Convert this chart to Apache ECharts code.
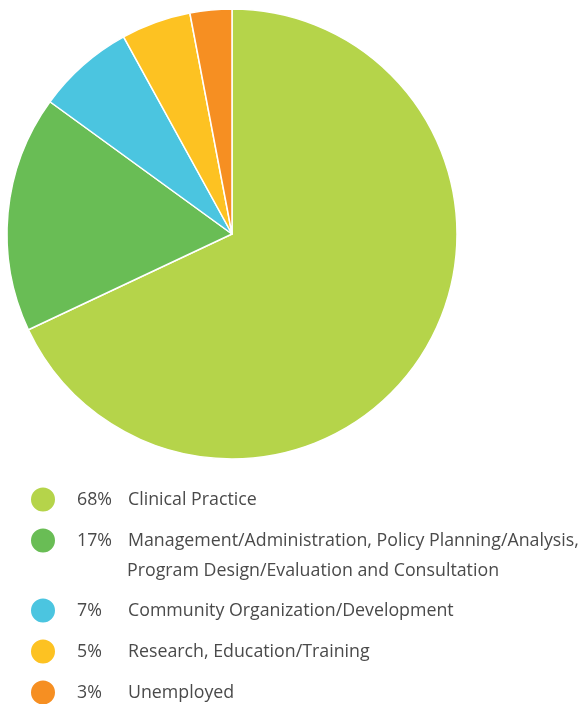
<!DOCTYPE html>
<html>
<head>
<meta charset="utf-8">
<script src="https://cdn.jsdelivr.net/npm/echarts@6/dist/echarts.min.js"></script>
<style>
  html, body { margin: 0; padding: 0; background: #fff; }
  #chart { width: 584px; height: 704px; }
</style>
</head>
<body>
<div id="chart"></div>
<script>
const categories = [
  'Clinical Practice',
  'Management/Administration, Policy Planning/Analysis,\nProgram Design/Evaluation and Consultation',
  'Community Organization/Development',
  'Research, Education/Training',
  'Unemployed',
]
const values = [68, 17, 7, 5, 3]
const colors = ['#b5d44a', '#69bd55', '#4bc5e0', '#fdc222', '#f68f22']

const chart = echarts.init(document.getElementById('chart'))

// legend shows only the first line; the wrapped line is drawn below it
function legendText(name) {
  const idx = categories.indexOf(name)
  return `{p|${values[idx]}%}{n|${name.split('\n')[0]}}`
}

const txt = { fontFamily: 'Open Sans', fontSize: 17.8, color: '#4a4a4a', lineHeight: 29 }

function makeLegend(top, names) {
  return {
    orient: 'vertical',
    left: 29,
    top,
    height: 130,
    padding: 0,
    icon: 'circle',
    itemWidth: 26,
    itemHeight: 26,
    itemGap: 12,
    selectedMode: false,
    formatter: legendText,
    textStyle: {
      ...txt,
      rich: {
        p: { ...txt, width: 51, padding: [0, 0, 0, 16] },
        n: { ...txt },
      },
    },
    data: names,
  }
}

chart.setOption({
  animation: false,
  legend: [
    makeLegend(485, categories.slice(0, 2)),
    makeLegend(596, categories.slice(2)),
  ],
  graphic: [{
    type: 'text',
    left: 127,
    top: 556,
    style: {
      text: categories[1].split('\n')[1],
      fontFamily: txt.fontFamily,
      fontSize: txt.fontSize,
      fill: txt.color,
      lineHeight: 29,
    },
  }],
  series: [{
    type: 'pie',
    center: [232, 234],
    radius: 225,
    startAngle: 90,
    clockwise: true,
    label: { show: false },
    labelLine: { show: false },
    itemStyle: { borderColor: '#fff', borderWidth: 1.5 },
    data: categories.map((name, i) => ({ name, value: values[i], itemStyle: { color: colors[i] } })),
  }],
})
</script>
</body>
</html>
